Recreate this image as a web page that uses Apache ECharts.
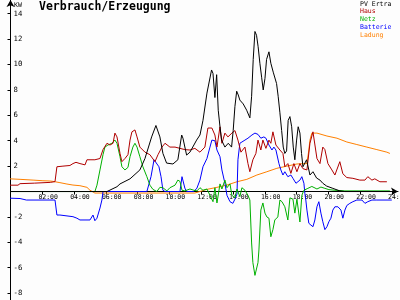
<!DOCTYPE html>
<html><head><meta charset="utf-8">
<script src="https://cdn.jsdelivr.net/npm/echarts@6/dist/echarts.min.js"></script>
<style>html,body{margin:0;padding:0;background:#fdfdfd}#c{width:400px;height:300px}</style>
</head><body><div id="c"></div>
<script>
// ---- data (hours of day, kW) ----
const seriesNames = ['PV Ertra', 'Haus', 'Netz', 'Batterie', 'Ladung'];
const xTickHours = [2,4,6,8,10,12,14,16,18,20,22,24];
const yTickValues = [-8,-6,-4,-2,2,4,6,8,10,12,14];

const pvT = [-0.66,6.07,6.70,6.89,7.52,8.14,8.46,8.88,9.15,9.40,9.59,9.82,10.22,10.53,10.77,10.85,11.08,11.29,11.71,11.92,12.11,12.36,12.65,12.74,12.86,12.97,13.07,13.18,13.28,13.49,13.70,13.91,14.01,14.12,14.23,14.33,14.43,14.54,14.64,14.86,15.06,15.17,15.27,15.38,15.48,15.58,15.69,15.80,15.90,16.01,16.11,16.26,16.38,16.53,16.64,16.74,16.84,16.95,17.06,17.16,17.26,17.37,17.47,17.58,17.69,17.79,17.89,18.00,18.10,18.21,18.31,18.40,18.63,18.84,19.03,19.26,19.47,19.65,19.89,20.28,20.72,21.04,23.99];
const pvV = [0,0,0.38,0.6,1.0,1.7,2.6,4.3,5.2,4.3,3.0,2.24,2.17,2.5,4.45,4.2,2.87,3.1,4.05,4.45,5.6,7.75,9.57,9.3,7.4,9.2,6.4,5.1,4.05,3.5,3.8,3.5,4.8,6.7,7.9,7.6,7.2,7.35,6.9,6.4,5.8,7.5,10.4,12.6,12.3,11.4,10.1,9.0,8.0,8.9,10.4,11.0,10.1,9.4,9.3,8.5,7.5,6.2,4.8,3.5,3.0,3.2,5.6,5.9,5.1,3.5,2.5,4.05,5.1,4.6,3.0,1.95,2.5,1.3,1.56,1.06,0.9,0.65,0.43,0.25,0.05,0,0];

const hausT = [-0.66,0.47,0.6,1.5,2.5,2.8,2.92,3.3,3.74,3.93,4.12,4.37,4.69,4.81,5.31,5.63,5.82,6.07,6.26,6.45,6.57,6.70,6.89,7.01,7.20,7.39,7.52,7.64,7.83,7.96,8.14,8.46,8.77,9.09,9.28,9.53,9.72,10.03,10.35,10.66,10.97,11.29,11.60,11.92,12.23,12.42,12.67,12.86,12.99,13.18,13.30,13.49,13.68,13.93,14.12,14.31,14.50,14.75,14.94,15.06,15.25,15.44,15.57,15.75,15.88,16.07,16.26,16.38,16.51,16.70,16.95,17.14,17.26,17.45,17.64,17.83,18.02,18.21,18.40,18.65,18.84,19.03,19.28,19.47,19.65,19.78,19.97,20.22,20.41,20.72,20.91,21.16,21.54,21.98,22.30,22.48,22.74,22.92,23.24,23.68];
const hausV = [0.5,0.5,0.62,0.66,0.72,0.78,1.95,2.0,2.05,2.2,2.3,2.2,2.1,2.5,2.5,2.6,3.3,3.8,3.66,3.8,4.6,4.3,3.0,2.35,2.6,2.9,4.05,4.7,4.85,4.3,3.5,3.1,2.9,2.35,2.9,3.5,3.8,3.5,3.5,3.4,3.3,3.27,3.4,3.1,3.5,5.0,5.0,4.45,3.5,5.1,3.8,4.6,4.3,4.6,4.8,4.05,3.1,3.5,2.2,1.56,2.5,3.0,4.05,3.27,4.05,3.4,4.05,3.8,4.7,3.66,3.27,3.0,1.95,2.2,1.43,2.2,1.56,2.2,1.8,1.7,3.8,4.7,2.6,2.2,3.5,3.3,2.2,1.7,1.3,2.35,1.4,1.1,1.04,0.9,0.9,1.17,0.9,1.0,0.77,0.77];

const netzT = [-0.66,5.31,5.44,5.63,5.82,5.94,6.13,6.38,6.57,6.70,6.89,7.01,7.20,7.39,7.52,7.70,7.83,7.96,8.14,8.33,8.58,8.77,8.96,9.21,9.40,9.59,9.84,10.03,10.35,10.53,10.66,10.79,10.97,11.29,11.54,11.73,11.92,12.11,12.36,12.55,12.74,12.86,12.99,13.18,13.30,13.49,13.62,13.81,13.93,14.12,14.25,14.43,14.56,14.75,14.94,15.06,15.17,15.25,15.38,15.44,15.57,15.63,15.75,15.88,16.01,16.13,16.26,16.38,16.51,16.63,16.82,16.95,17.08,17.26,17.45,17.58,17.77,17.89,18.02,18.21,18.33,18.46,18.71,18.96,19.28,19.53,19.78,20.03,20.41,21.04,23.87];
const netzV = [0,0,0.5,1.7,2.9,3.5,3.66,3.8,4.05,3.8,2.74,1.95,1.7,1.9,2.74,3.5,3.8,3.5,2.74,1.95,1.17,0.5,0.17,0,0.33,0.3,0.05,0.3,0.5,0.9,0.8,0.1,0.05,0.2,0.1,0.05,0.3,0.1,0.2,-0.3,-0.8,0.3,-0.9,0.6,0.2,0.9,0.3,0.6,-0.3,-0.5,0.2,-0.4,0.3,0.1,-0.3,-0.67,-4.05,-5.6,-6.6,-6.7,-5.6,-4.6,-1.46,-0.9,-1.7,-2.0,-2.1,-3.56,-3.0,-2.24,-2.0,-0.67,-0.8,-1.2,-2.24,-0.5,-0.6,-1.7,-0.6,-2.4,-0.3,0.1,0.25,0.4,0.2,0.35,0.25,0.15,0.1,0.05,0.05];

const battT = [-0.66,0.6,1.0,2.8,2.92,3.11,3.93,4.18,4.37,5.00,5.19,5.31,5.44,5.63,5.75,5.82,8.58,8.65,8.84,9.03,9.15,9.34,9.47,9.59,9.72,10.66,10.79,10.85,10.97,11.08,11.54,11.73,11.92,12.11,12.36,12.55,12.67,12.74,12.86,12.99,13.18,13.30,13.49,13.62,13.81,13.99,14.12,14.25,14.31,14.43,14.56,14.75,14.94,15.19,15.38,15.57,15.75,15.94,16.07,16.26,16.45,16.57,16.70,16.89,17.01,17.14,17.26,17.45,17.64,17.77,17.96,18.08,18.21,18.33,18.46,18.52,18.58,18.65,18.77,18.90,19.03,19.15,19.28,19.40,19.53,19.65,19.78,19.91,20.03,20.16,20.28,20.41,20.60,20.79,20.91,21.04,21.16,21.35,21.54,21.79,22.11,22.30,22.48,22.74,23.05,23.99];
const battV = [-0.5,-0.55,-0.67,-0.67,-1.85,-1.85,-1.98,-2.1,-2.24,-2.24,-1.85,-2.3,-2.1,-1.3,-0.67,0,0,0.1,1.17,2.5,2.6,1.95,1.17,0.1,0,0,1.17,1.17,0.27,0,0,0.27,0.9,1.95,2.6,3.5,4.05,4.2,4.0,3.27,2.74,1.7,0.65,-0.3,-0.8,-0.93,-0.6,-0.2,2.5,3.8,3.9,4.05,4.2,4.45,4.6,4.5,4.2,4.3,4.2,3.66,3.27,3.5,3.27,2.2,1.7,1.3,1.56,1.17,1.3,1.04,0.65,0.51,0.9,1.17,0.65,-0.15,-0.67,-1.46,-2.5,-2.64,-2.77,-2.24,-1.2,-0.8,-1.7,-2.38,-3.0,-2.77,-2.38,-2.1,-1.46,-1.2,-1.2,-1.46,-2.1,-1.46,-1.1,-0.93,-0.8,-0.67,-0.67,-0.93,-0.8,-0.67,-0.67,-0.67];

const ladT = [-0.66,-0.03,0.6,1.42,2.04,2.48,2.67,3.11,3.55,3.93,4.37,4.81,5.00,5.31,11.6,12.36,12.99,13.62,14.25,14.87,15.50,16.13,16.76,17.39,18.02,18.65,18.71,18.77,18.84,18.96,19.03,19.28,19.91,20.54,21.16,21.79,22.42,23.05,23.68,23.87];
const ladV = [1.04,1.0,0.96,0.9,0.85,0.83,0.8,0.7,0.59,0.51,0.46,0.33,0.1,-0.12,-0.12,0.17,0.33,0.51,0.77,0.96,1.3,1.56,1.83,2.0,2.17,2.2,2.2,3.27,4.05,4.6,4.66,4.6,4.37,4.2,3.9,3.7,3.5,3.3,3.1,3.0];

const colors = {'PV Ertra':'#000000','Haus':'#b00000','Netz':'#00b000','Batterie':'#0000ff','Ladung':'#ff8000'};

function pairs(t, v){ return t.map((h,i)=>[h, v[i]]); }
const dataByName = {
  'PV Ertra': pairs(pvT, pvV),
  'Haus': pairs(hausT, hausV),
  'Netz': pairs(netzT, netzV),
  'Batterie': pairs(battT, battV),
  'Ladung': pairs(ladT, ladV)
};

const mono = 'DejaVu Sans Mono';
const chart = echarts.init(document.getElementById('c'), null, {renderer:'canvas'});
const drawOrder = ['Ladung','Batterie','Netz','Haus','PV Ertra'];
const yMin = -8.54, yMax = 15.08, plotH = 300;
chart.setOption({
  animation: false,
  backgroundColor: '#fdfdfd',
  title: [
    {text:'Verbrauch/Erzeugung', left:39, top:1, padding:0,
     textStyle:{fontFamily:mono, fontWeight:'bold', fontSize:11.5, color:'#000'}},
    {text:'KW', left:14, top:2, padding:0,
     textStyle:{fontFamily:mono, fontWeight:'normal', fontSize:6.5, color:'#000'}}
  ],
  legend: {
    orient:'vertical', left:355, top:0, padding:0, itemGap:0,
    itemWidth:0, itemHeight:7.8, icon:'none', selectedMode:false,
    textStyle:{fontFamily:mono, fontSize:6.5, lineHeight:7.8, padding:0},
    data: seriesNames.map(n=>({name:n, textStyle:{color:colors[n]}}))
  },
  grid: {left:10.5, right:2, top:0, bottom:0, containLabel:false, outerBoundsMode:'none'},
  xAxis: {
    type:'value', min:0, max:24.38, position:'bottom',
    offset: -(0 - yMin) * plotH / (yMax - yMin),
    axisLine:{onZero:false, lineStyle:{color:'#000', width:1}, symbol:['none','arrow'], symbolSize:[6,7]},
    axisTick:{show:true, length:3, lineStyle:{color:'#000'}, customValues:xTickHours},
    axisLabel:{show:true, customValues:xTickHours, margin:2, fontFamily:mono, fontSize:6.5, color:'#000',
      showMinLabel:true, showMaxLabel:true, hideOverlap:false,
      formatter:v=>'   '+String(v).padStart(2,'0')+':00'},
    splitLine:{show:false}
  },
  yAxis: {
    type:'value', min:yMin, max:yMax,
    axisLine:{onZero:false, lineStyle:{color:'#000', width:1}, symbol:['none','arrow'], symbolSize:[6,7]},
    axisTick:{show:true, length:3, lineStyle:{color:'#000'}, customValues:yTickValues},
    axisLabel:{inside:true, customValues:yTickValues, margin:3, fontFamily:mono, fontSize:7.3, color:'#000',
      showMinLabel:true, showMaxLabel:true},
    splitLine:{show:false}
  },
  series: drawOrder.map(n=>({
    name:n, type:'line', data:dataByName[n], showSymbol:false, symbol:'none', clip:false,
    color:colors[n], lineStyle:{width:1, color:colors[n]}, silent:true
  }))
});
</script></body></html>
